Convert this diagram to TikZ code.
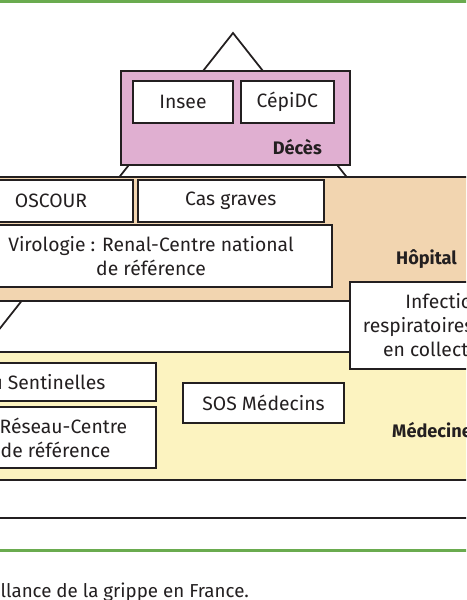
\documentclass[tikz,border=0pt]{standalone}
\usepackage{fontspec}
\setmainfont{Fira Sans}
\usepackage{tikz}
\usetikzlibrary{positioning}
\definecolor{decesfill}{HTML}{E0AFD1}
\definecolor{hopfill}{HTML}{F2D5B0}
\definecolor{medfill}{HTML}{FCF3C0}
\definecolor{rulegreen}{HTML}{6AAB4F}
\definecolor{ink}{HTML}{231F20}

\begin{document}
\begin{tikzpicture}[x=0.03cm, y=-0.03cm, font=\fontsize{16.5}{20.5}\selectfont, text=ink,
  box/.style={draw=ink, line width=1.5pt, fill=white, rectangle, inner sep=0pt, align=center},
  size/.style 2 args={minimum width=#1*0.03cm, minimum height=#2*0.03cm},
  band/.style={draw=ink, line width=1.5pt},
  tag/.style={font=\fontsize{15.5}{20}\selectfont\bfseries, inner sep=0pt}]
  \useasboundingbox (0,0) rectangle (466,600);
  \clip (0,0) rectangle (466,600);
  % green rules
  \draw[rulegreen, line width=2.4pt] (-10,1.5) -- (480,1.5);
  \draw[rulegreen, line width=2.4pt] (-10,550.5) -- (480,550.5);
  % pyramid edges
  \coordinate (apex) at (233,33);
  \draw[ink, line width=1.5pt] (apex) ++(-400,507) -- (apex) -- ++(400,507);
  % levels
  \filldraw[band, fill=hopfill] (-20,177) rectangle (490,301);
  \filldraw[band, fill=medfill] (-20,352) rectangle (490,480);
  \draw[band] (-20,518) -- (490,518);
  % Deces
  \node[box, fill=decesfill, size={229}{94}] (deces) at (235.5,118) {};
  \node[box, size={100}{42}] (insee) at (183,102) {Insee};
  \node[box, size={93}{42}, right=0.18cm of insee] (cepidc) {CépiDC};
  \node[tag, anchor=east] (decestag) at (322,147) {Décès};
  % Hopital
  \node[box, size={164}{42}] (oscour) at (51,201) {OSCOUR};
  \node[box, size={186}{42}, right=0.09cm of oscour] (casgraves) {Cas graves};
  \node[box, size={362}{62}] (renal) at (151,256) {Virologie : Renal-Centre national\\de référence};
  \node[tag, anchor=east] (hoptag) at (457,259) {Hôpital};
  \node[box, size={198}{87}] (ira) at (449,325.5) {Infections\\respiratoires aiguës\\en collectivités};
  % Medecine
  \node[box, size={267}{38}] (sentinelles) at (22.5,382) {Réseau Sentinelles};
  \node[box, size={279}{61}] (reseau) at (16.5,437.5) {Virologie : Réseau-Centre\\national de référence};
  \node[box, size={161}{40}] (sos) at (263.5,403) {SOS Médecins};
  \node[tag, anchor=west] (medtag) at (392,430) {Médecine};
  % caption
  \node[anchor=base east, inner sep=0pt, font=\fontsize{16}{20}\selectfont] (caption) at (249,597) {Surveillance de la grippe en France.};
\end{tikzpicture}
\end{document}
